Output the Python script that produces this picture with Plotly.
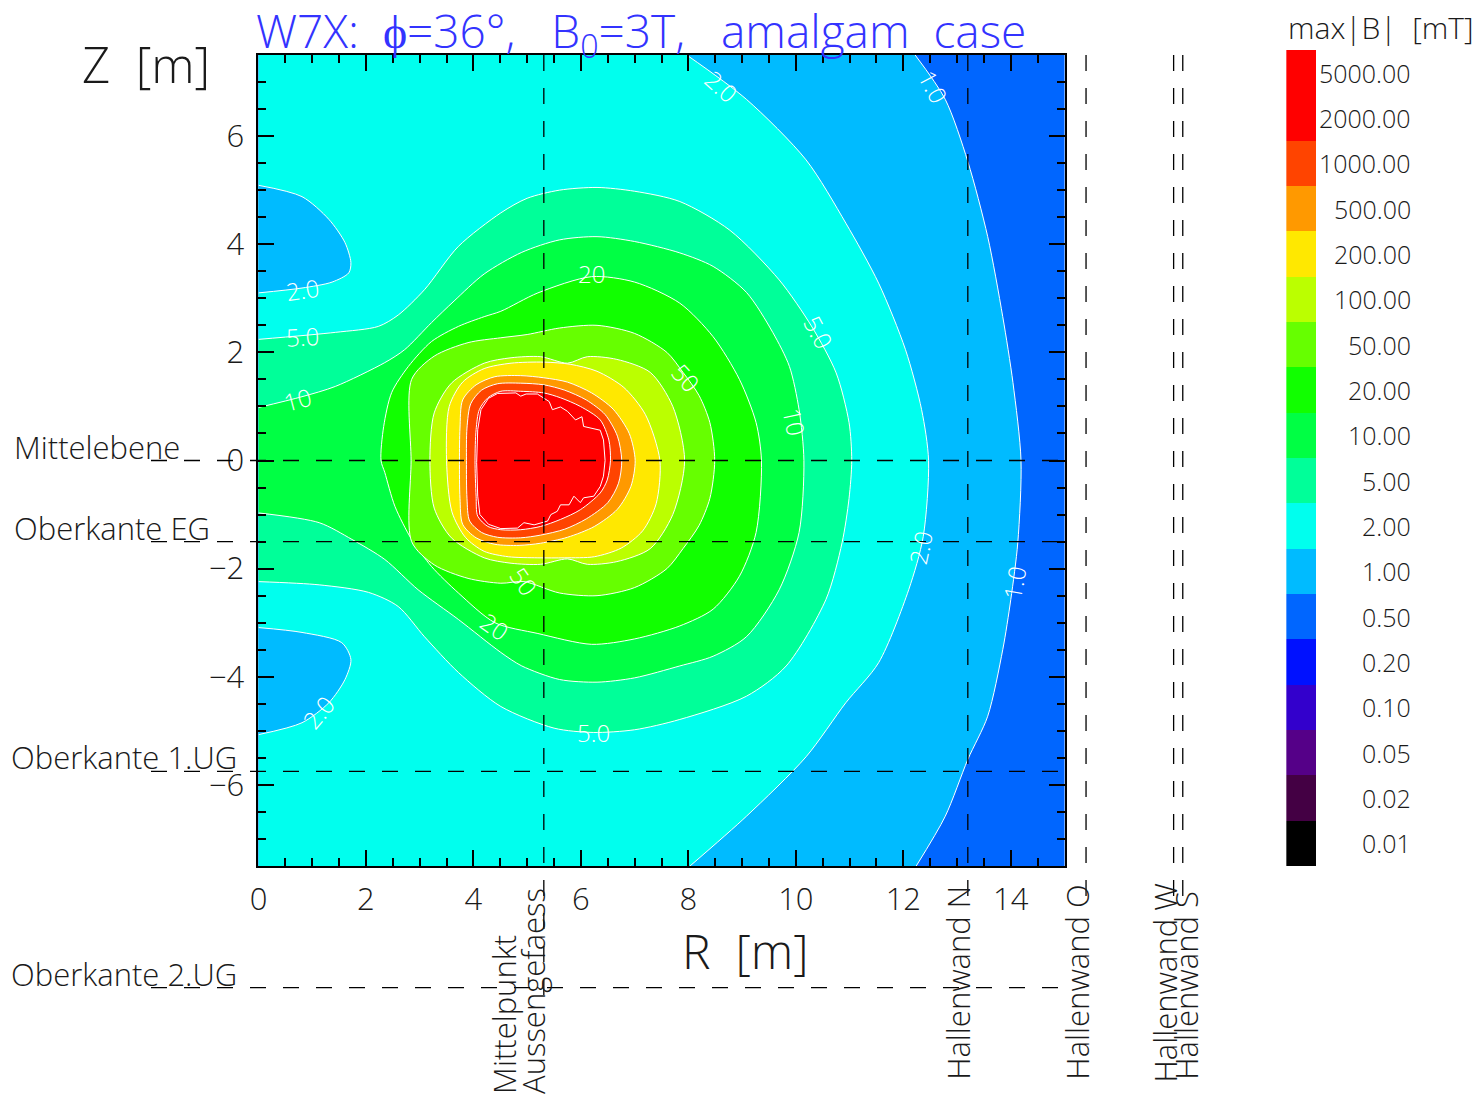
import plotly.graph_objects as go

# ---------------- figure geometry ----------------
W, H = 1481, 1099
PLOT_L, PLOT_R, PLOT_T, PLOT_B = 251, 1062, 55, 866
CB_L, CB_R, CB_T, CB_B = 1285, 1315, 50, 866
R_RANGE = [0.0, 15.0]
Z_RANGE = [-7.5, 7.5]

FONT = "Open Sans"
WEIGHT = 300
TXT = "#1a1a1a"

# ---------------- max|B| contour lines (R [m], Z [m]) ----------------
# 1 mT line, runs from the upper to the lower edge
C1_R = [12.22, 12.78, 13.20, 13.57, 13.85, 14.04, 14.19, 14.13, 14.00, 13.85, 13.57, 13.20, 12.78, 12.24]
C1_Z = [7.50, 6.68, 5.53, 4.14, 2.66, 1.44, 0.00, -1.52, -2.57, -3.50, -4.73, -5.53, -6.58, -7.50]

# 2 mT line (outer arc)
C2_R = [7.97, 9.08, 10.19, 10.93, 11.54, 12.04, 12.34, 12.47, 12.37, 12.10, 11.54, 10.93, 10.19, 9.08, 8.03]
C2_Z = [7.50, 6.68, 5.56, 4.39, 3.28, 2.05, 0.94, 0.00, -1.41, -2.39, -3.74, -4.48, -5.48, -6.58, -7.50]

# 2 mT islands near the axis (field below 2 mT inside)
L2U_R = [0.00, 0.81, 1.31, 1.61, 1.72, 1.68, 1.37, 0.81, 0.00]
L2U_Z = [5.09, 4.88, 4.46, 4.03, 3.66, 3.47, 3.30, 3.19, 3.10]
L2D_R = [0.00, 0.81, 1.55, 1.72, 1.61, 1.31, 0.81, 0.00]
L2D_Z = [-3.09, -3.18, -3.37, -3.68, -4.05, -4.48, -4.85, -5.07]

# 5 mT line
C5_R = [0.00, 1.43, 2.23, 2.60, 3.09, 3.72, 4.51, 5.00, 5.60, 6.30, 7.00, 7.84, 8.77, 9.69, 10.30, 10.75, 10.99, 11.04,
        10.99, 10.86, 10.56, 9.82, 9.08, 7.84, 7.00, 6.23, 5.50, 4.51, 3.72, 3.09, 2.60, 2.05, 1.13, 0.00]
C5_Z = [2.24, 2.37, 2.48, 2.69, 3.16, 3.96, 4.58, 4.85, 5.00, 5.05, 4.98, 4.79, 4.26, 3.34, 2.47, 1.62, 0.70, 0.00,
        -0.70, -1.52, -2.57, -3.80, -4.36, -4.79, -4.98, -5.03, -4.95, -4.55, -3.92, -3.26, -2.70, -2.44, -2.30, -2.24]

# 10 mT line
C10_R = [0.00, 0.81, 1.43, 2.35, 2.72, 3.22, 3.64, 4.20, 4.90, 5.60, 6.30, 7.00, 7.84, 8.46, 9.08, 9.57, 9.88, 10.06, 10.15,
         10.06, 9.69, 9.08, 8.46, 7.84, 7.00, 6.30, 5.60, 4.90, 4.51, 3.72, 2.97, 2.35, 1.74, 1.13, 0.00]
C10_Z = [0.98, 1.18, 1.37, 1.81, 2.05, 2.55, 2.95, 3.45, 3.85, 4.08, 4.14, 4.05, 3.84, 3.59, 3.11, 2.37, 1.74, 0.94, 0.00,
         -1.33, -2.39, -3.26, -3.62, -3.80, -4.02, -4.10, -4.05, -3.80, -3.55, -2.94, -2.39, -1.83, -1.46, -1.15, -0.97]

# 20 mT line
C20_R = [2.28, 2.33, 2.48, 2.79, 3.22, 3.72, 4.20, 4.51, 5.20, 6.20, 7.00, 7.84, 8.46, 8.95, 9.26, 9.36,
         9.26, 8.95, 8.46, 7.84, 7.00, 6.20, 5.20, 4.40, 3.72, 3.22, 2.85, 2.54, 2.35, 2.28]
C20_Z = [0.00, 0.63, 1.26, 1.74, 2.20, 2.48, 2.66, 2.76, 3.10, 3.40, 3.30, 2.91, 2.29, 1.50, 0.70, 0.00,
         -1.33, -2.14, -2.75, -3.06, -3.30, -3.40, -3.20, -3.00, -2.45, -1.96, -1.46, -0.85, -0.22, 0.00]

# 50 mT line
C50_R = [2.84, 2.85, 3.27, 3.90, 4.51, 5.00, 5.60, 6.30, 7.00, 7.60, 7.90, 8.20, 8.40, 8.49,
         8.40, 8.20, 7.90, 7.60, 7.00, 6.30, 5.60, 4.94, 4.51, 3.90, 3.27, 2.85, 2.84]
C50_Z = [0.00, 1.50, 1.93, 2.18, 2.27, 2.33, 2.45, 2.50, 2.35, 2.00, 1.63, 1.20, 0.70, 0.00,
         -0.70, -1.20, -1.63, -2.00, -2.35, -2.50, -2.45, -2.24, -2.27, -2.18, -1.93, -1.50, 0.00]

# 100 mT line
C100_R = [3.19, 3.27, 3.59, 4.20, 4.70, 5.25, 5.75, 6.12, 6.67, 7.29, 7.71, 7.93,
          7.71, 7.29, 6.67, 6.12, 5.75, 5.25, 4.70, 4.20, 3.59, 3.27, 3.19]
C100_Z = [0.00, 0.88, 1.43, 1.80, 1.90, 1.92, 1.80, 1.92, 1.87, 1.63, 1.00, 0.00,
          -1.00, -1.63, -1.87, -1.92, -1.82, -1.92, -1.90, -1.80, -1.43, -0.88, 0.00]

# 200 mT line
C200_R = [3.50, 3.55, 3.80, 4.20, 4.70, 5.31, 5.80, 6.30, 6.80, 7.20, 7.47,
          7.40, 7.15, 6.75, 6.25, 5.70, 5.20, 4.65, 4.20, 3.85, 3.60, 3.50]
C200_Z = [0.00, 1.00, 1.45, 1.70, 1.80, 1.82, 1.78, 1.65, 1.35, 0.85, 0.00,
          -0.80, -1.30, -1.62, -1.78, -1.80, -1.80, -1.78, -1.68, -1.42, -0.95, 0.00]

# 500 mT line
C500_R = [3.74, 3.75, 3.80, 4.05, 4.40, 4.88, 5.31, 5.75, 6.20, 6.60, 6.90, 7.01,
          6.93, 6.68, 6.25, 5.75, 5.25, 4.85, 4.40, 4.05, 3.80, 3.75, 3.74]
C500_Z = [0.00, 0.60, 1.12, 1.40, 1.55, 1.57, 1.53, 1.45, 1.25, 0.95, 0.50, 0.00,
          -0.48, -0.90, -1.22, -1.42, -1.53, -1.57, -1.55, -1.43, -1.18, -0.70, 0.00]

# 1000 mT line
C1000_R = [3.87, 3.88, 3.95, 4.15, 4.45, 4.88, 5.31, 5.70, 6.10, 6.45, 6.68, 6.76,
           6.70, 6.50, 6.10, 5.70, 5.25, 4.88, 4.45, 4.15, 3.93, 3.88, 3.87]
C1000_Z = [0.00, 0.60, 1.05, 1.30, 1.42, 1.43, 1.40, 1.30, 1.12, 0.85, 0.45, 0.00,
           -0.42, -0.78, -1.08, -1.27, -1.38, -1.43, -1.42, -1.33, -1.12, -0.70, 0.00]

# 2000 mT line
C2000_R = [4.03, 4.05, 4.11, 4.27, 4.51, 4.88, 5.31, 5.62, 5.99, 6.36, 6.52, 6.55,
           6.49, 6.36, 5.99, 5.62, 5.25, 4.88, 4.51, 4.27, 4.08, 4.05, 4.03]
C2000_Z = [0.00, 0.57, 0.94, 1.16, 1.28, 1.28, 1.25, 1.16, 1.00, 0.75, 0.38, 0.00,
           -0.36, -0.60, -0.91, -1.09, -1.22, -1.28, -1.28, -1.22, -1.03, -0.66, 0.00]

# 5000 mT line (ragged, inside the core)
C5000_R = [4.45, 4.79, 4.88, 4.98, 5.19, 5.41, 5.47, 5.62, 5.75, 5.90, 6.02, 6.05, 6.36, 6.42, 6.45, 6.42, 6.36,
           6.24, 6.05, 5.99, 5.87, 5.78, 5.62, 5.56, 5.44, 5.38, 5.13, 4.94, 4.82, 4.51, 4.28, 4.12, 4.08, 4.06,
           4.08, 4.14, 4.28, 4.45]
C5000_Z = [1.24, 1.25, 1.19, 1.23, 1.23, 1.09, 0.94, 0.99, 0.91, 0.75, 0.81, 0.63, 0.56, 0.38, 0.00, -0.29, -0.48,
           -0.66, -0.69, -0.78, -0.66, -0.82, -0.82, -0.94, -1.00, -1.12, -1.19, -1.15, -1.25, -1.26, -1.18, -1.00,
           -0.66, -0.04, 0.57, 0.94, 1.15, 1.24]

# fill colour of the band just above each contour value
FILL = {
    "base": "#0066ff", 1: "#00bbff", 2: "#00ffee", 5: "#00ff99", 10: "#00ff44", 20: "#11ff00",
    50: "#66ff00", 100: "#bbff00", 200: "#ffe800", 500: "#ff9900", 1000: "#ff4400", 2000: "#ff0000",
}

# contour labels: text, R, Z, angle
CLAB_TEXT = ["2.0", "1.0", "5.0", "10", "50", "20", "2.0", "5.0", "10", "2.0", "1.0", "50", "20", "5.0", "2.0"]
CLAB_R = [8.62, 12.56, 10.43, 9.97, 7.95, 6.20, 0.81, 0.81, 0.72, 12.32, 14.07, 4.94, 4.40, 6.23, 1.11]
CLAB_Z = [6.92, 6.92, 2.37, 0.72, 1.53, 3.46, 3.16, 2.29, 1.12, -1.61, -2.26, -2.24, -3.07, -5.03, -4.66]
CLAB_ANG = [42, 62, 62, 78, 48, 0, -8, -3, -15, -78, -80, 55, 35, 0, -50]

# colour scale
CB_LABELS = ["0.01", "0.02", "0.05", "0.10", "0.20", "0.50", "1.00", "2.00", "5.00", "10.00",
             "20.00", "50.00", "100.00", "200.00", "500.00", "1000.00", "2000.00", "5000.00"]
CB_COLORS = ["#000000", "#440044", "#550088", "#3300cc", "#0011ff", "#0066ff", "#00bbff", "#00ffee", "#00ff99",
             "#00ff44", "#11ff00", "#66ff00", "#bbff00", "#ffe800", "#ff9900", "#ff4400", "#ff0000", "#ff0000"]

# building reference lines
HLINE_Z = [0.0, -1.5, -5.75, -9.75]
HLINE_TEXT = ["Mittelebene", "Oberkante EG", "Oberkante 1.UG", "Oberkante 2.UG"]
HLINE_R = [-2.0, 15.0]
HTEXT_PX = [3, 3, 0, 0]

VLINE_R = [5.31, 13.20, 15.40, 17.03, 17.20]
VLINE_ZTOP = 7.5
VLINE_ZBOT = [-10.1, -8.3, -8.3, -8.3, -8.3]
VTEXT = ["Mittelpunkt", "Aussengefaess", "Hallenwand N", "Hallenwand O", "Hallenwand W", "Hallenwand S"]
VTEXT_R = [4.57, 5.12, 13.02, 15.24, 16.87, 17.27]
VTEXT_Z = [-11.76, -11.76, -11.49, -11.49, -11.55, -11.49]

TITLE = "W7X:\u00a0 \u03d5=36\u00b0,\u00a0\u00a0 B<sub>0</sub>=3T,\u00a0\u00a0 amalgam\u00a0 case"

# ---------------- layout helpers ----------------
px_per_m = (PLOT_R - PLOT_L) / (R_RANGE[1] - R_RANGE[0])
X_DOM = [PLOT_L / W, PLOT_R / W]
Y_DOM = [1 - PLOT_B / H, 1 - PLOT_T / H]
X3_RANGE = [R_RANGE[0] - PLOT_L / px_per_m, R_RANGE[1] + (W - PLOT_R) / px_per_m]
Y3_RANGE = [Z_RANGE[0] - (H - PLOT_B) / px_per_m, Z_RANGE[1] + PLOT_T / px_per_m]


def font(size, color=TXT):
    return dict(family=FONT, size=size, color=color, weight=WEIGHT)


fig = go.Figure()


def band(r, z, color, fill="toself"):
    fig.add_trace(go.Scatter(
        x=r, y=z, mode="lines", fill=fill, fillcolor=color,
        line=dict(color="white", width=1, shape="spline", smoothing=0.8),
        hoverinfo="skip", showlegend=False, xaxis="x", yaxis="y"))


band(C1_R, C1_Z, FILL[1], fill="tozerox")
band(C2_R, C2_Z, FILL[2], fill="tozerox")
band(L2U_R, L2U_Z, FILL[1])
band(L2D_R, L2D_Z, FILL[1])
band(C5_R, C5_Z, FILL[5])
band(C10_R, C10_Z, FILL[10])
band(C20_R, C20_Z, FILL[20])
band(C50_R, C50_Z, FILL[50])
band(C100_R, C100_Z, FILL[100])
band(C200_R, C200_Z, FILL[200])
band(C500_R, C500_Z, FILL[500])
band(C1000_R, C1000_Z, FILL[1000])
band(C2000_R, C2000_Z, FILL[2000])
fig.add_trace(go.Scatter(x=C5000_R, y=C5000_Z, mode="lines", line=dict(color="white", width=1),
                         hoverinfo="skip", showlegend=False, xaxis="x", yaxis="y"))

# colour scale bar
fig.add_trace(go.Heatmap(
    z=[[i] for i in range(len(CB_COLORS))], x=[0], y=list(range(len(CB_COLORS))),
    colorscale=[[i / (len(CB_COLORS) - 1), c] for i, c in enumerate(CB_COLORS)],
    zmin=0, zmax=len(CB_COLORS) - 1, showscale=False, hoverinfo="skip", xaxis="x2", yaxis="y2"))

# building reference lines (drawn on a full-figure overlay with the same scale)
DASH = "16px,17px"
for z in HLINE_Z:
    fig.add_trace(go.Scatter(x=HLINE_R, y=[z, z], mode="lines", line=dict(color="black", width=1.3, dash=DASH),
                             hoverinfo="skip", showlegend=False, xaxis="x3", yaxis="y3"))
for r, zb in zip(VLINE_R, VLINE_ZBOT):
    fig.add_trace(go.Scatter(x=[r, r], y=[VLINE_ZTOP, zb], mode="lines",
                             line=dict(color="black", width=1.3, dash=DASH),
                             hoverinfo="skip", showlegend=False, xaxis="x3", yaxis="y3"))

ann = []
for t, r, z, a in zip(CLAB_TEXT, CLAB_R, CLAB_Z, CLAB_ANG):
    ann.append(dict(text=t, x=r, y=z, xref="x", yref="y", showarrow=False, textangle=a,
                    font=font(24, "white")))
for t, px, z in zip(HLINE_TEXT, HTEXT_PX, HLINE_Z):
    ann.append(dict(text=t, x=px / W, y=z, xref="paper", yref="y3", xanchor="left", align="left",
                    yanchor="bottom", yshift=-9, showarrow=False, font=font(31)))
for t, r, z in zip(VTEXT, VTEXT_R, VTEXT_Z):
    ann.append(dict(text=t, x=r, y=z, xref="x3", yref="y3", xanchor="center", yanchor="bottom",
                    textangle=-90, showarrow=False, font=font(31)))
for i, t in enumerate(CB_LABELS):
    ann.append(dict(text=t, x=1413 / W, y=i, xref="paper", yref="y2", xanchor="right", align="right",
                    yanchor="middle", showarrow=False, font=font(25)))
ann.append(dict(text="max|B|\u00a0 [mT]", x=1285 / W, y=1 - 27 / H, xref="paper", yref="paper",
                xanchor="left", align="left", yanchor="middle", showarrow=False, font=font(30)))
ann.append(dict(text=TITLE, x=246 / W, y=1 - 33 / H, xref="paper", yref="paper", xanchor="left", align="left",
                yanchor="middle", showarrow=False, font=font(46, "#3333ff")))
ann.append(dict(text="Z\u00a0 [m]", x=71 / W, y=1 - 64 / H, xref="paper", yref="paper", xanchor="left",
                align="left", yanchor="middle", showarrow=False, font=font(49)))
ann.append(dict(text="R\u00a0 [m]", x=675 / W, y=1 - 950 / H, xref="paper", yref="paper", xanchor="left",
                align="left", yanchor="middle", showarrow=False, font=font(48)))

axis_common = dict(showgrid=False, zeroline=False, showline=True, linecolor="black", linewidth=2,
                   ticks="inside", ticklen=16, tickwidth=1.5, tickcolor="black", mirror="allticks",
                   tickfont=font(31),
                   minor=dict(ticks="inside", ticklen=8, tickwidth=1.5, tickcolor="black", dtick=0.5, showgrid=False))

fig.update_layout(
    width=W, height=H, margin=dict(l=0, r=0, t=0, b=0),
    paper_bgcolor="white", plot_bgcolor="rgba(0,0,0,0)", showlegend=False,
    xaxis=dict(domain=X_DOM, range=R_RANGE, dtick=2, tick0=0, anchor="y", ticklabelstandoff=5, **axis_common),
    yaxis=dict(domain=Y_DOM, range=Z_RANGE, dtick=2, tick0=0, anchor="x", ticklabelstandoff=6, **axis_common),
    xaxis2=dict(domain=[CB_L / W, CB_R / W], range=[-0.5, 0.5], visible=False, anchor="y2", fixedrange=True),
    yaxis2=dict(domain=[1 - CB_B / H, 1 - CB_T / H], range=[-0.5, len(CB_COLORS) - 0.5], visible=False,
                anchor="x2", fixedrange=True),
    xaxis3=dict(domain=[0, 1], range=X3_RANGE, visible=False, anchor="y3"),
    yaxis3=dict(domain=[0, 1], range=Y3_RANGE, visible=False, anchor="x3"),
    annotations=ann,
    shapes=[dict(type="rect", xref="x domain", yref="y domain", x0=0, x1=1, y0=0, y1=1,
                 fillcolor=FILL["base"], line=dict(width=0), layer="below")],
)

fig.write_html("out.html")
